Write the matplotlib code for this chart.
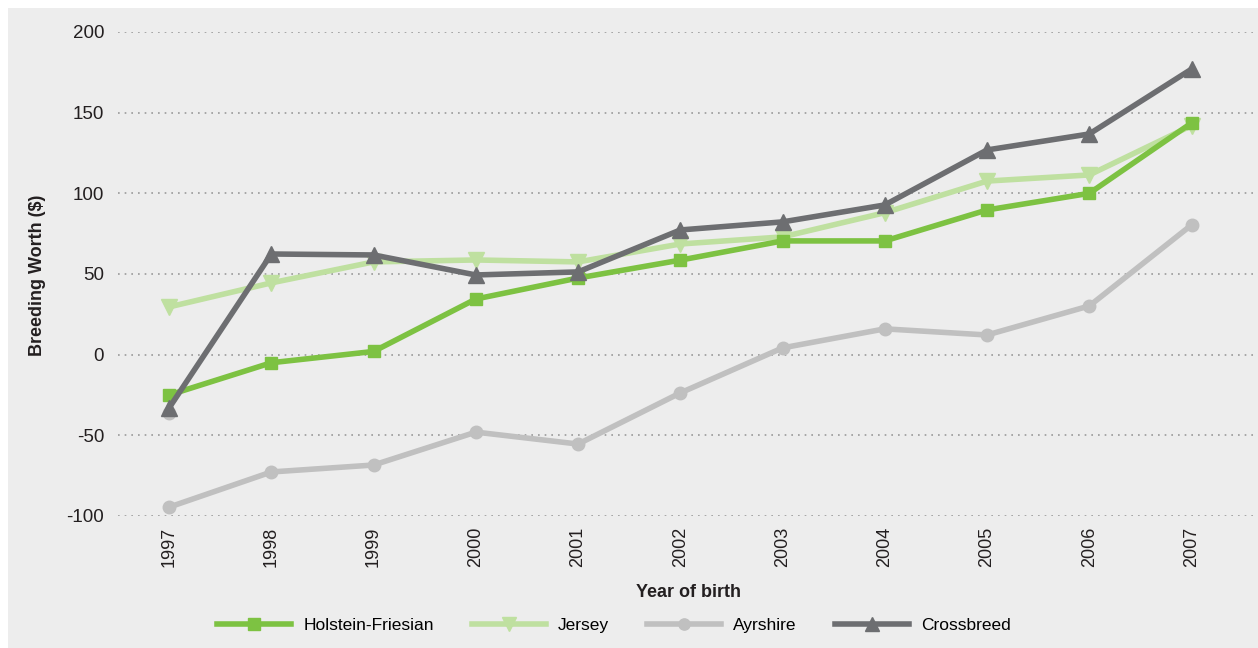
import numpy as np
import matplotlib.pyplot as plt
from matplotlib.patches import Rectangle

years = [1997, 1998, 1999, 2000, 2001, 2002, 2003, 2004, 2005, 2006, 2007]
holstein = [-25, -5, 2, 34.5, 47.5, 58.6, 70.5, 70.5, 89.7, 100, 143.6]
jersey = [29.6, 44.5, 57.5, 58.7, 57.5, 68.6, 73, 88, 107.6, 111.4, 142]
ayrshire = [-94.5, -72.7, -68.4, -48, -55.4, -23.7, 4.2, 16, 12.2, 30.2, 80.4]
crossbreed = [-33, 62.4, 61.8, 49.4, 51.3, 77.3, 82.3, 92.8, 126.9, 136.8, 177]
# lone grey point sitting behind the first crossbreed marker
stray_year = [1997]
stray_val = [-36]

yticks = [-100, -50, 0, 50, 100, 150, 200]

plt.rcParams['font.family'] = ['Liberation Sans Narrow', 'Liberation Sans', 'DejaVu Sans']

fig = plt.figure(figsize=(12.58, 6.48), dpi=100)
fig.patch.set_facecolor('white')
fig.patches.append(Rectangle((8 / 1258, 0), 1, 640 / 648, transform=fig.transFigure,
                             facecolor='#ededed', edgecolor='none', zorder=-10))

ax = fig.add_axes([118 / 1258, 1 - 516 / 648, 1 - 118 / 1258, (516 - 32) / 648])
ax.set_zorder(5)
ax.set_facecolor('none')

ax.plot(stray_year, stray_val, marker='o', color='#c0c0c0', markersize=9, lw=0, clip_on=False, zorder=2)
ax.plot(years, ayrshire, marker='o', color='#c0c0c0', lw=4, markersize=9, label='Ayrshire', clip_on=False, zorder=2)
ax.plot(years, jersey, marker='v', color='#bfe0a0', lw=4, markersize=11, label='Jersey', clip_on=False, zorder=3)
ax.plot(years, holstein, marker='s', color='#7dc242', lw=4, markersize=9, label='Holstein-Friesian', clip_on=False, zorder=4)
ax.plot(years, crossbreed, marker='^', color='#6d6e71', lw=4, markersize=11, label='Crossbreed', clip_on=False, zorder=5)

ax.set_xlim(1996.5, 2007.65)
ax.set_ylim(-100, 200)
ax.set_yticks(yticks)
ax.set_yticklabels([str(v) for v in yticks], fontsize=13.5, color='#231f20')
ax.set_xticks(years)
ax.set_xticklabels([str(y) for y in years], rotation=90, fontsize=13, color='#231f20')
ax.tick_params(length=0, pad=8)
ax.tick_params(axis='y', pad=10)
for s in ax.spines.values():
    s.set_visible(False)
ax.grid(axis='y', linestyle=(0, (1, 3)), color='#999999', lw=1.2)
ax.set_axisbelow(True)

ax.set_xlabel('Year of birth', fontsize=13, fontweight='bold', color='#231f20', labelpad=12)
fig.text(38 / 1258, 1 - 275 / 648, 'Breeding Worth ($)', rotation=90, fontsize=13,
         fontweight='bold', color='#231f20', ha='center', va='center')

h, l = ax.get_legend_handles_labels()
order = [2, 1, 0, 3]
fig.legend([h[i] for i in order], [l[i] for i in order], loc='center', ncol=4,
           bbox_to_anchor=(614 / 1258, 1 - 625 / 648), frameon=False, fontsize=12.5,
           handlelength=4.25, columnspacing=2.2, handletextpad=0.7, markerscale=0.9)

fig.savefig('out.png', dpi=100)
